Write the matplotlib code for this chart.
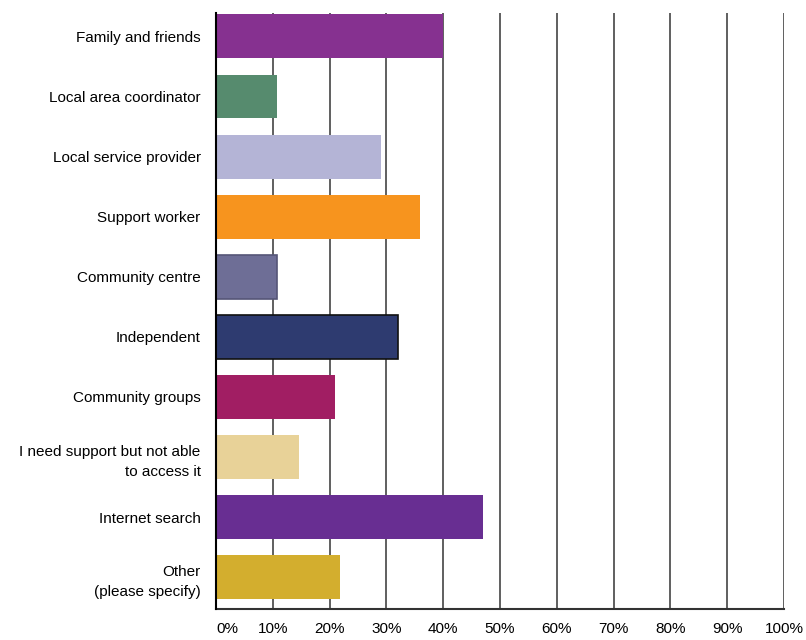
import matplotlib.pyplot as plt
import numpy as np

categories = [
    "Family and friends",
    "Local area coordinator",
    "Local service provider",
    "Support worker",
    "Community centre",
    "Independent",
    "Community groups",
    "I need support but not able\nto access it",
    "Internet search",
    "Other\n(please specify)",
]
values = [40.0, 10.7, 29.0, 36.0, 10.7, 32.0, 21.0, 14.6, 47.0, 21.8]
colors = ["#863190", "#568B6E", "#B4B4D6", "#F7941E", "#6E6E96",
          "#2E3B70", "#A11E63", "#E8D298", "#682E92", "#D3AE2E"]
edges = ["none", "none", "none", "none", "#555577",
         "#111111", "none", "none", "none", "none"]
xticks = list(range(0, 101, 10))

plt.rcParams["font.family"] = ["Liberation Sans", "DejaVu Sans"]

fig = plt.figure(figsize=(8.06, 6.4), dpi=100)
ax = fig.add_axes([0.268, 0.0484, 0.7047, 0.9313])

y = np.arange(len(categories))
for i, (v, c, e) in enumerate(zip(values, colors, edges)):
    ax.barh(y[i], v, height=0.73, color=c,
            edgecolor=e, linewidth=1.2 if e != "none" else 0, zorder=3)

ax.set_xlim(0, 100)
ax.set_ylim(9.53, -0.39)
ax.set_yticks(y)
ax.set_yticklabels(categories, fontsize=11, ha="right",
                   multialignment="right", linespacing=1.55)
ax.set_xticks(xticks)
ax.set_xticklabels([f"{t}%" for t in xticks], fontsize=11)
ax.get_xticklabels()[0].set_horizontalalignment("left")

for t in xticks[1:]:
    ax.axvline(t, color="#444444", linewidth=1.2, zorder=1)

ax.tick_params(axis="y", length=0, pad=11)
ax.tick_params(axis="x", length=0, pad=9)
for s in ["top", "right"]:
    ax.spines[s].set_visible(False)
ax.spines["left"].set_color("black")
ax.spines["bottom"].set_color("#333333")
ax.spines["left"].set_linewidth(1.5)
ax.spines["bottom"].set_linewidth(1.5)
ax.spines["left"].set_zorder(4)

fig.savefig("out.png", dpi=100)
